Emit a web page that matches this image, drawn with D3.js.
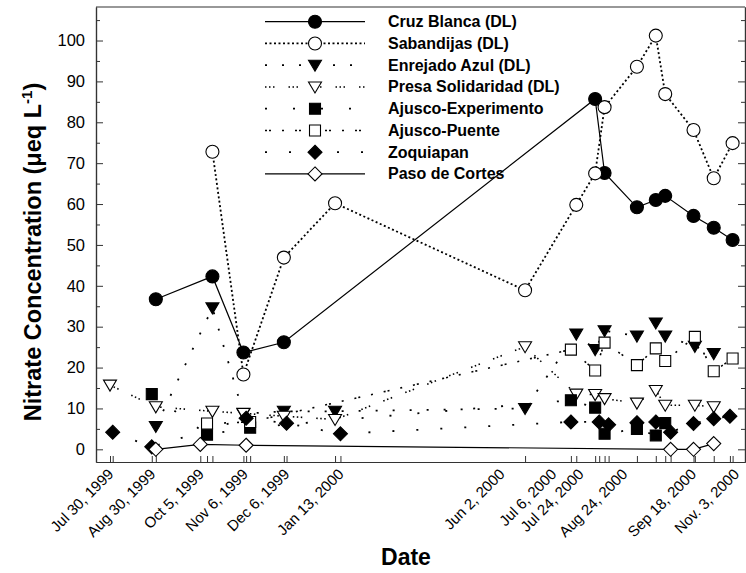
<!DOCTYPE html>
<html>
<head>
<meta charset="utf-8">
<script src="https://cdn.jsdelivr.net/npm/d3@7"></script>
<style>
  body { margin: 0; background: #fff; }
  svg { display: block; }
  text { font-family: "Liberation Sans", Arial, sans-serif; fill: #000; }
</style>
</head>
<body>
<svg id="chart" width="746" height="573"></svg>
<script>
// ---- Nitrate concentration by site (µeq/L), sampling dates ----
const cruzBlancaDates  = ["1999-09-02","1999-10-14","1999-11-06","1999-12-06","2000-07-24","2000-07-31","2000-08-24","2000-09-07","2000-09-14","2000-10-05","2000-10-20","2000-11-03"];
const cruzBlancaValues = [36.7, 42.3, 23.7, 26.2, 85.7, 67.6, 59.2, 61.0, 62.0, 57.1, 54.2, 51.2];

const sabandijasDates  = ["1999-10-14","1999-11-06","1999-12-06","2000-01-13","2000-06-02","2000-07-10","2000-07-24","2000-07-31","2000-08-24","2000-09-07","2000-09-14","2000-10-05","2000-10-20","2000-11-03"];
const sabandijasValues = [72.8, 18.3, 46.9, 60.2, 38.9, 59.8, 67.5, 83.7, 93.6, 101.2, 86.9, 78.1, 66.3, 74.9];

const enrejadoDates  = ["1999-09-02","1999-10-14","1999-11-06","1999-12-06","2000-01-13","2000-06-02","2000-07-10","2000-07-24","2000-07-31","2000-08-24","2000-09-07","2000-09-14","2000-10-06","2000-10-20"];
const enrejadoValues = [5.6, 34.6, 8.7, 9.3, 9.3, 10.0, 28.2, 24.4, 29.0, 27.7, 30.9, 27.7, 25.2, 23.4];

const presaDates  = ["1999-07-30","1999-09-02","1999-10-14","1999-11-06","1999-12-06","2000-01-13","2000-06-02","2000-07-10","2000-07-24","2000-07-31","2000-08-24","2000-09-07","2000-09-14","2000-10-06","2000-10-20"];
const presaValues = [15.7, 10.4, 9.3, 8.8, 8.1, 7.3, 25.1, 13.5, 13.4, 12.4, 11.3, 14.4, 10.8, 10.8, 10.4];

const ajuscoExpDates  = ["1999-08-30","1999-10-10","1999-11-11","2000-07-06","2000-07-24","2000-07-31","2000-08-24","2000-09-07","2000-09-14"];
const ajuscoExpValues = [13.5, 3.6, 5.3, 12.0, 10.2, 3.8, 5.0, 3.4, 6.4];

const ajuscoPuenteDates  = ["1999-10-10","1999-11-11","2000-07-06","2000-07-24","2000-07-31","2000-08-24","2000-09-07","2000-09-14","2000-10-06","2000-10-20","2000-11-03"];
const ajuscoPuenteValues = [6.3, 6.7, 24.4, 19.3, 26.1, 20.6, 24.7, 21.6, 27.5, 19.1, 22.2];

const zoquiapanDates  = ["1999-08-01","1999-08-30","1999-11-08","1999-12-08","2000-01-17","2000-07-06","2000-07-27","2000-08-03","2000-08-24","2000-09-07","2000-09-18","2000-10-05","2000-10-20","2000-11-01"];
const zoquiapanValues = [4.2, 0.6, 7.6, 6.4, 3.8, 6.7, 6.7, 6.0, 6.5, 6.7, 4.2, 6.3, 7.5, 8.1];

const pasoDates  = ["1999-09-02","1999-10-05","1999-11-08","2000-09-18","2000-10-05","2000-10-20"];
const pasoValues = [0.0, 1.2, 1.0, 0.0, 0.0, 1.4];

const seriesNames = ["Cruz Blanca (DL)","Sabandijas (DL)","Enrejado Azul (DL)","Presa Solidaridad (DL)","Ajusco-Experimento","Ajusco-Puente","Zoquiapan","Paso de Cortes"];

// ---- axis labels ----
const xLabelDates = ["1999-07-30","1999-08-30","1999-10-05","1999-11-06","1999-12-06","2000-01-13","2000-06-02","2000-07-06","2000-07-24","2000-08-24","2000-09-18","2000-11-03"];
const xLabelTexts = ["Jul 30, 1999","Aug 30, 1999","Oct 5, 1999","Nov 6, 1999","Dec 6, 1999","Jan 13, 2000","Jun 2, 2000","Jul 6, 2000","Jul 24, 2000","Aug 24, 2000","Sep 18, 2000","Nov. 3, 2000"];
const yTickValues = [0,10,20,30,40,50,60,70,80,90,100];
const yMinorValues = [5,15,25,35,45,55,65,75,85,95,105];

// layout: horizontal nudges (px) that keep the crowded 2000 date labels apart
const xLabelShift = [0, 0, 0, 1, 2, 5, -24, -18, -15, -13, 22, 3];

const parse = d3.utcParse("%Y-%m-%d");
const svg = d3.select("#chart");

const plot = { left: 96, right: 745, top: 7, bottom: 462 };
const x = d3.scaleUtc()
  .domain([new Date(Date.UTC(1999, 6, 19, 14, 38)), new Date(Date.UTC(2000, 10, 12, 4, 48))])
  .range([plot.left, plot.right]);
const y = d3.scaleLinear().domain([-3.1, 108.2]).range([plot.bottom, plot.top]);

// marker shapes
const sym = {
  circle:   { draw(c) { c.moveTo(6.5, 0); c.arc(0, 0, 6.5, 0, 2 * Math.PI); c.closePath(); } },
  triDown:  { draw(c) { c.moveTo(-6.5, -5); c.lineTo(6.5, -5); c.lineTo(0, 6); c.closePath(); } },
  square:   { draw(c) { c.rect(-5.5, -5.5, 11, 11); } },
  diamond:  { draw(c) { c.moveTo(0, -7); c.lineTo(7, 0); c.lineTo(0, 7); c.lineTo(-7, 0); c.closePath(); } }
};

const series = [
  { name: seriesNames[0], dates: cruzBlancaDates,   values: cruzBlancaValues,   shape: sym.circle,  fill: "#000", dash: null,                     width: 1.2 },
  { name: seriesNames[1], dates: sabandijasDates,   values: sabandijasValues,   shape: sym.circle,  fill: "#fff", dash: "2,2.5",                  width: 1.8 },
  { name: seriesNames[2], dates: enrejadoDates,     values: enrejadoValues,     shape: sym.triDown, fill: "#000", dash: "2,15",                   width: 1.8 },
  { name: seriesNames[3], dates: presaDates,        values: presaValues,        shape: sym.triDown, fill: "#fff", dash: "1.5,2.5,1.5,2.5,1.5,14", width: 1.6 },
  { name: seriesNames[4], dates: ajuscoExpDates,    values: ajuscoExpValues,    shape: sym.square,  fill: "#000", dash: "2,26",                   width: 1.8 },
  { name: seriesNames[5], dates: ajuscoPuenteDates, values: ajuscoPuenteValues, shape: sym.square,  fill: "#fff", dash: "2,2,2,11,2,11",          width: 1.6 },
  { name: seriesNames[6], dates: zoquiapanDates,    values: zoquiapanValues,    shape: sym.diamond, fill: "#000", dash: "2,22",                   width: 1.8 },
  { name: seriesNames[7], dates: pasoDates,         values: pasoValues,         shape: sym.diamond, fill: "#fff", dash: null,                     width: 1.2 }
];
series.forEach(s => { s.points = s.dates.map((d, i) => ({ date: parse(d), value: s.values[i] })); });

// ---- frame & axes ----
const axisColor = "#333";
function styleAxis(g) {
  g.selectAll(".domain").attr("stroke", axisColor).attr("stroke-width", 1.2);
  g.selectAll(".tick line").attr("stroke", axisColor).attr("stroke-width", 1);
}

// top border
svg.append("line").attr("x1", plot.left).attr("x2", plot.right).attr("y1", plot.top).attr("y2", plot.top)
  .attr("stroke", axisColor).attr("stroke-width", 1.2);

// left axis
svg.append("g").attr("transform", `translate(${plot.left},0)`)
  .call(d3.axisLeft(y).tickValues(yTickValues).tickSize(-7).tickSizeOuter(0).tickPadding(11))
  .call(styleAxis)
  .call(g => g.selectAll("text").attr("font-size", 16.5));
svg.append("g").attr("transform", `translate(${plot.left},0)`)
  .call(d3.axisLeft(y).tickValues(yMinorValues).tickSize(-4).tickSizeOuter(0).tickFormat(""))
  .call(styleAxis);

// right axis
svg.append("g").attr("transform", `translate(${plot.right},0)`)
  .call(d3.axisRight(y).tickValues(yTickValues).tickSize(-7).tickSizeOuter(0).tickFormat(""))
  .call(styleAxis);
svg.append("g").attr("transform", `translate(${plot.right},0)`)
  .call(d3.axisRight(y).tickValues(yMinorValues).tickSize(-4).tickSizeOuter(0).tickFormat(""))
  .call(styleAxis);

// bottom axis: one tick per sampling date
const allDates = Array.from(new Set(series.flatMap(s => s.dates))).sort().map(parse);
svg.append("g").attr("transform", `translate(0,${plot.bottom})`)
  .call(d3.axisBottom(x).tickValues(allDates).tickSize(-6).tickSizeOuter(0).tickFormat(""))
  .call(styleAxis);

// rotated date labels
svg.append("g").attr("transform", `translate(0,${plot.bottom})`)
  .call(d3.axisBottom(x).tickValues(xLabelDates.map(parse)).tickSize(0)
    .tickFormat((d, i) => xLabelTexts[i]))
  .call(g => g.select(".domain").remove())
  .call(g => g.selectAll("text")
    .attr("font-size", 15)
    .attr("text-anchor", "end")
    .attr("x", 0).attr("y", 0).attr("dy", 0)
    .attr("transform", (d, i) => `translate(${4 + xLabelShift[i]},13) rotate(-45)`));

// axis titles
svg.append("text").attr("x", 406).attr("y", 565).attr("text-anchor", "middle")
  .attr("font-size", 23).attr("font-weight", "bold").text("Date");

const yTitle = svg.append("text").attr("transform", "translate(41,252) rotate(-90)")
  .attr("text-anchor", "middle").attr("font-size", 23.5).attr("font-weight", "bold");
yTitle.append("tspan").text("Nitrate Concentration (\u03BCeq L");
yTitle.append("tspan").attr("font-size", 15).attr("dy", -9).text("-1");
yTitle.append("tspan").attr("dy", 9).text(")");

// ---- data ----
const line = d3.line().x(d => x(d.date)).y(d => y(d.value));
const dataG = svg.append("g");

series.forEach(s => {
  dataG.append("path").datum(s.points)
    .attr("d", line).attr("fill", "none").attr("stroke", "#000")
    .attr("stroke-width", s.width)
    .attr("stroke-dasharray", s.dash);
});
series.forEach(s => {
  dataG.append("g").selectAll("path").data(s.points).join("path")
    .attr("transform", d => `translate(${x(d.date)},${y(d.value)})`)
    .attr("d", d3.symbol().type(s.shape))
    .attr("fill", s.fill).attr("stroke", "#000").attr("stroke-width", 1.1);
});

// ---- legend ----
const legend = svg.append("g");
const legendRow = i => 21.7 + i * 21.75;
series.forEach((s, i) => {
  const row = legend.append("g").attr("transform", `translate(0,${legendRow(i)})`);
  row.append("line").attr("x1", 265).attr("x2", 365).attr("y1", 0).attr("y2", 0)
    .attr("stroke", "#000").attr("stroke-width", s.width).attr("stroke-dasharray", s.dash);
  row.append("path").attr("transform", "translate(315,0)")
    .attr("d", d3.symbol().type(s.shape))
    .attr("fill", s.fill).attr("stroke", "#000").attr("stroke-width", 1.1);
  row.append("text").attr("x", 388).attr("y", 5.5).attr("font-size", 16).attr("font-weight", "bold").text(s.name);
});
</script>
</body>
</html>
